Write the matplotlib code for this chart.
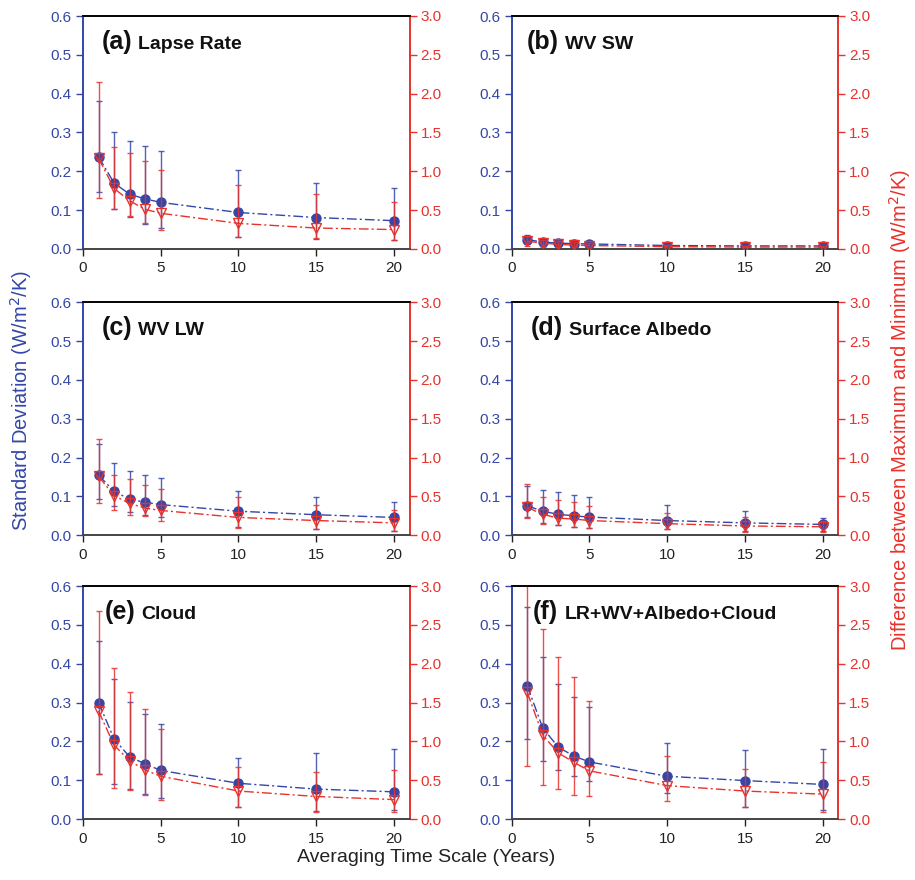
import matplotlib
matplotlib.use("Agg")
import matplotlib.pyplot as plt
from matplotlib.transforms import offset_copy
import numpy as np

plt.rcParams['font.family'] = ['Liberation Sans', 'DejaVu Sans']

# Averaging time scale (years)
years = [1, 2, 3, 4, 5, 10, 15, 20]

panel_tags = ['(a)', '(b)', '(c)', '(d)', '(e)', '(f)']
panel_names = ['Lapse Rate', 'WV SW', 'WV LW', 'Surface Albedo', 'Cloud',
               'LR+WV+Albedo+Cloud']

# Standard deviation of feedback (W/m2/K): value, upper and lower bar ends
sd_a = [0.237, 0.170, 0.141, 0.129, 0.120, 0.094, 0.081, 0.073]
sd_a_hi = [0.380, 0.302, 0.279, 0.264, 0.253, 0.204, 0.171, 0.158]
sd_a_lo = [0.147, 0.103, 0.082, 0.065, 0.053, 0.031, 0.027, 0.024]

sd_b = [0.024, 0.018, 0.015, 0.014, 0.013, 0.009, 0.008, 0.008]
sd_b_hi = [0.036, 0.026, 0.024, 0.022, 0.021, 0.015, 0.014, 0.013]
sd_b_lo = [0.012, 0.009, 0.007, 0.005, 0.005, 0.003, 0.003, 0.003]

sd_c = [0.155, 0.113, 0.093, 0.085, 0.079, 0.062, 0.053, 0.046]
sd_c_hi = [0.235, 0.185, 0.165, 0.155, 0.147, 0.115, 0.099, 0.086]
sd_c_lo = [0.094, 0.075, 0.060, 0.052, 0.046, 0.022, 0.017, 0.012]

sd_d = [0.076, 0.062, 0.054, 0.050, 0.047, 0.038, 0.032, 0.028]
sd_d_hi = [0.127, 0.117, 0.111, 0.105, 0.098, 0.077, 0.062, 0.045]
sd_d_lo = [0.046, 0.032, 0.026, 0.021, 0.019, 0.017, 0.010, 0.010]

sd_e = [0.300, 0.206, 0.160, 0.142, 0.125, 0.092, 0.077, 0.070]
sd_e_hi = [0.459, 0.360, 0.301, 0.270, 0.245, 0.157, 0.171, 0.180]
sd_e_lo = [0.116, 0.090, 0.078, 0.064, 0.054, 0.030, 0.020, 0.023]

sd_f = [0.343, 0.234, 0.185, 0.162, 0.147, 0.110, 0.099, 0.089]
sd_f_hi = [0.547, 0.416, 0.348, 0.315, 0.289, 0.195, 0.177, 0.181]
sd_f_lo = [0.205, 0.149, 0.126, 0.111, 0.099, 0.066, 0.030, 0.023]

# Difference between maximum and minimum (W/m2/K): value, upper and lower bar ends
rng_a = [1.17, 0.78, 0.62, 0.51, 0.46, 0.33, 0.27, 0.25]
rng_a_hi = [2.15, 1.31, 1.23, 1.13, 1.02, 0.82, 0.71, 0.61]
rng_a_lo = [0.66, 0.52, 0.42, 0.33, 0.25, 0.15, 0.14, 0.11]

rng_b = [0.10, 0.075, 0.06, 0.05, 0.045, 0.03, 0.025, 0.025]
rng_b_hi = [0.17, 0.12, 0.10, 0.09, 0.08, 0.055, 0.045, 0.04]
rng_b_lo = [0.04, 0.03, 0.025, 0.02, 0.015, 0.01, 0.01, 0.01]

rng_c = [0.76, 0.51, 0.41, 0.35, 0.32, 0.23, 0.19, 0.16]
rng_c_hi = [1.24, 0.78, 0.72, 0.65, 0.60, 0.49, 0.39, 0.33]
rng_c_lo = [0.41, 0.33, 0.26, 0.25, 0.19, 0.09, 0.08, 0.06]

rng_d = [0.36, 0.27, 0.22, 0.21, 0.19, 0.15, 0.12, 0.11]
rng_d_hi = [0.66, 0.49, 0.46, 0.43, 0.38, 0.29, 0.23, 0.18]
rng_d_lo = [0.22, 0.15, 0.13, 0.11, 0.09, 0.08, 0.04, 0.04]

rng_e = [1.39, 0.95, 0.75, 0.63, 0.55, 0.36, 0.29, 0.25]
rng_e_hi = [2.68, 1.95, 1.64, 1.42, 1.16, 0.67, 0.60, 0.63]
rng_e_lo = [0.58, 0.40, 0.37, 0.31, 0.24, 0.15, 0.09, 0.09]

rng_f = [1.63, 1.08, 0.85, 0.73, 0.62, 0.43, 0.36, 0.32]
rng_f_hi = [3.30, 2.44, 2.09, 1.83, 1.52, 0.81, 0.64, 0.73]
rng_f_lo = [0.68, 0.44, 0.38, 0.31, 0.30, 0.23, 0.15, 0.09]

sd_sets = [(sd_a, sd_a_hi, sd_a_lo), (sd_b, sd_b_hi, sd_b_lo),
           (sd_c, sd_c_hi, sd_c_lo), (sd_d, sd_d_hi, sd_d_lo),
           (sd_e, sd_e_hi, sd_e_lo), (sd_f, sd_f_hi, sd_f_lo)]
rng_sets = [(rng_a, rng_a_hi, rng_a_lo), (rng_b, rng_b_hi, rng_b_lo),
            (rng_c, rng_c_hi, rng_c_lo), (rng_d, rng_d_hi, rng_d_lo),
            (rng_e, rng_e_hi, rng_e_lo), (rng_f, rng_f_hi, rng_f_lo)]

left_ticks = [0.0, 0.1, 0.2, 0.3, 0.4, 0.5, 0.6]
right_ticks = [0.0, 0.5, 1.0, 1.5, 2.0, 2.5, 3.0]
x_ticks = [0, 5, 10, 15, 20]

BLUE = '#3446a8'
RED = '#e8322c'
W, H = 915, 880

fig = plt.figure(figsize=(W / 100, H / 100), dpi=100)

col_left = [83, 511.7]
col_width = 326.5
row_top = [16, 302.3, 586]
row_height = 233
tag_offset = [0.057, 0.047, 0.057, 0.058, 0.067, 0.066]

tick_fs = 11
dash_blue = (7, 2.2, 1.5, 2.2)
dash_red = (7, 2.2, 1.5, 2.2)


def asym(vals, hi, lo):
    v = np.asarray(vals)
    return [v - np.asarray(lo), np.asarray(hi) - v]


for i in range(6):
    r, c = divmod(i, 2)
    left = col_left[c] / W
    bottom = 1 - (row_top[r] + row_height) / H
    ax = fig.add_axes([left, bottom, col_width / W, row_height / H])
    ax2 = ax.twinx()

    sv, shi, slo = sd_sets[i]
    rv, rhi, rlo = rng_sets[i]

    # standard deviation on the left axis
    ax.errorbar(years, sv, yerr=asym(sv, shi, slo), fmt='none',
                ecolor=BLUE, elinewidth=1.0, capsize=2.5, capthick=1.0,
                alpha=0.85, zorder=2)
    ln, = ax.plot(years, sv, color=BLUE, lw=1.0, zorder=3)
    ln.set_dashes(dash_blue)
    ax.plot(years, sv, 'o', ms=6.5, mfc=BLUE, mec=BLUE, ls='none', zorder=4)

    # max-min range on the right axis
    ax2.errorbar(years, rv, yerr=asym(rv, rhi, rlo), fmt='none',
                 ecolor=RED, elinewidth=1.0, capsize=2.5, capthick=1.0,
                 alpha=0.85, zorder=2)
    ln2, = ax2.plot(years, rv, color=RED, lw=1.0, zorder=3)
    ln2.set_dashes(dash_red)
    ax2.plot(years, rv, 'v', ms=7.5, mfc='none', mec=RED, mew=1.0,
             ls='none', zorder=4)

    ax.set_xlim(0, 21)
    ax.set_ylim(0, 0.6)
    ax2.set_ylim(0, 3.0)
    ax.set_xticks(x_ticks)
    ax.set_yticks(left_ticks)
    ax2.set_yticks(right_ticks)
    ax.set_yticklabels([f'{t:.1f}' for t in left_ticks])
    ax2.set_yticklabels([f'{t:.1f}' for t in right_ticks])

    ax.tick_params(axis='x', direction='out', length=5, width=1.0,
                   labelsize=tick_fs, colors='#222222', pad=4)
    ax.tick_params(axis='y', direction='out', length=5, width=1.0,
                   labelsize=tick_fs, colors=BLUE, pad=3)
    ax2.tick_params(axis='y', direction='out', length=5, width=1.0,
                    labelsize=tick_fs, colors=RED, pad=3)

    for a in (ax, ax2):
        a.spines['left'].set_color(BLUE)
        a.spines['right'].set_color(RED)
        a.spines['top'].set_color('black')
        a.spines['bottom'].set_color('#444444')
        for s in a.spines.values():
            s.set_linewidth(1.2)

    # panel heading: bold tag followed by a smaller bold name
    ty = 1 - 33 / row_height
    t1 = ax.text(tag_offset[i], ty, panel_tags[i], transform=ax.transAxes,
                 fontsize=18, fontweight='bold', va='baseline', ha='left',
                 color='#111111', zorder=10)
    renderer = fig.canvas.get_renderer()
    bb = t1.get_window_extent(renderer)
    tr = offset_copy(ax.transAxes, fig=fig, x=bb.width + 6, y=0, units='dots')
    ax.text(tag_offset[i], ty, panel_names[i], transform=tr, fontsize=14,
            fontweight='bold', va='baseline', ha='left', color='#111111',
            zorder=10)

fig.text(21 / W, 1 - 401 / H, 'Standard Deviation (W/m$^2$/K)', color=BLUE,
         fontsize=14.5, rotation=90, ha='center', va='center')
fig.text(900 / W, 1 - 410 / H,
         'Difference between Maximum and Minimum (W/m$^2$/K)', color=RED,
         fontsize=14.5, rotation=90, ha='center', va='center')
fig.text(426 / W, 1 - 857 / H, 'Averaging Time Scale (Years)',
         color='#222222', fontsize=14, ha='center', va='center')

fig.savefig('out.png', dpi=100)
